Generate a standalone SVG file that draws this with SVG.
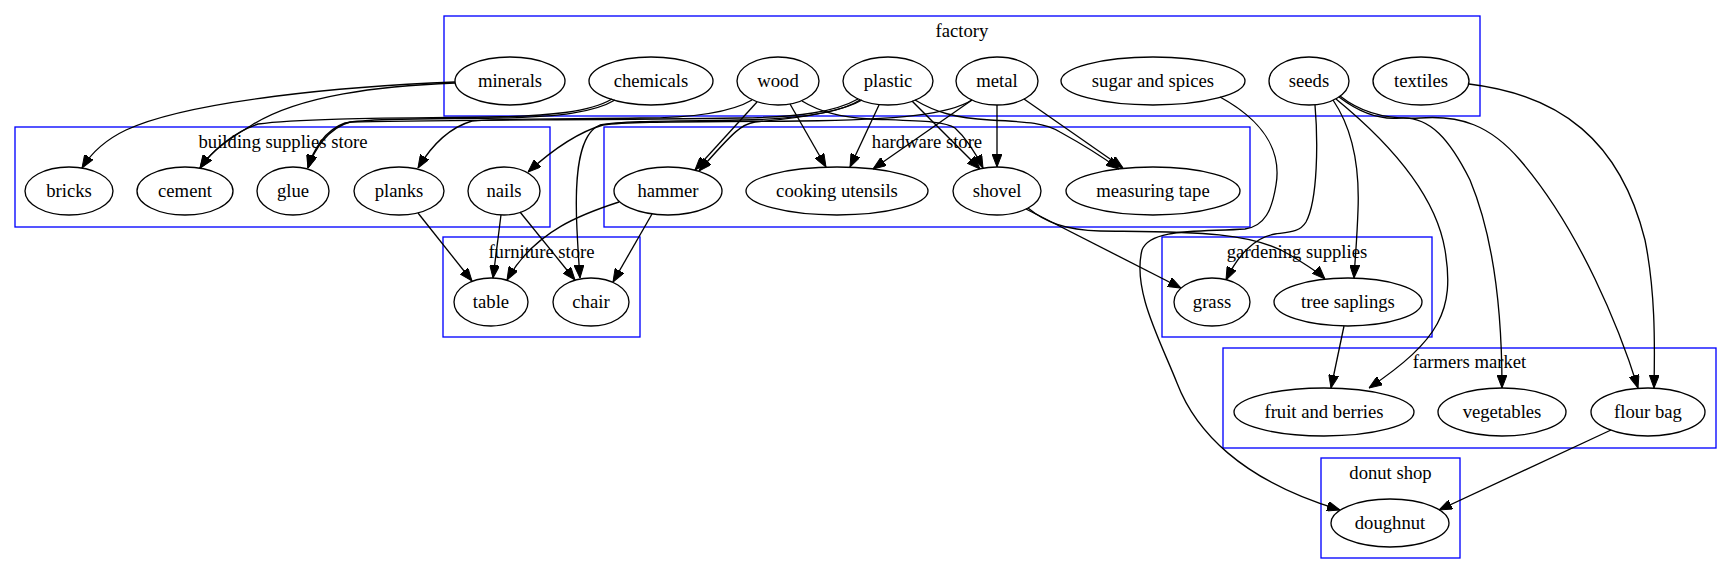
<svg xmlns="http://www.w3.org/2000/svg" width="1732" height="575" viewBox="0 0 1732 575">
<style>
.cl{fill:none;stroke:#0000ff;stroke-width:1.33}
.nd{fill:none;stroke:#000;stroke-width:1.33}
text{font-family:"Liberation Serif","Times New Roman",serif;font-size:18.67px;text-anchor:middle;fill:#000}
.ed path{fill:none;stroke:#000;stroke-width:1.33;marker-end:url(#ah)}
</style>
<defs>
<marker id="ah" viewBox="0 0 13 10" refX="13" refY="5" markerWidth="13" markerHeight="10" markerUnits="userSpaceOnUse" orient="auto">
<path d="M0,0 L13,5 L0,10 z" fill="#000" stroke="#000" stroke-width="1"/>
</marker>
</defs>
<rect width="1732" height="575" fill="#fff"/>
<g id="clusters">
<g id="cluster_factory"><rect class="cl" x="444" y="16" width="1036" height="100"/><text x="962" y="37">factory</text></g>
<g id="cluster_building"><rect class="cl" x="15" y="127" width="535" height="100"/><text x="283" y="148">building supplies store</text></g>
<g id="cluster_hardware"><rect class="cl" x="604" y="127" width="646" height="100"/><text x="927" y="148">hardware store</text></g>
<g id="cluster_furniture"><rect class="cl" x="443" y="237" width="197" height="100"/><text x="541.5" y="258">furniture store</text></g>
<g id="cluster_gardening"><rect class="cl" x="1162" y="237" width="270" height="100"/><text x="1297" y="258">gardening supplies</text></g>
<g id="cluster_farmers"><rect class="cl" x="1223" y="348" width="493" height="100"/><text x="1469.5" y="368">farmers market</text></g>
<g id="cluster_donut"><rect class="cl" x="1321" y="458" width="139" height="100"/><text x="1390.5" y="479">donut shop</text></g>
</g>
<g id="edges" class="ed">
<path d="M455,82 C350,86 190,100 126,130 C105,140 92,152 82,168"/>
<path d="M455,83 C380,86 300,95 252,125 C232,137 212,150 200,168"/>
<path d="M612,99 C590,112 550,116 490,117 C400,118 300,118 258,124 C234,132 213,150 200,168"/>
<path d="M615,100 C595,112 560,117 500,118 C440,119 370,118 345,123 C325,130 313,150 308,168"/>
<path d="M858,99 C835,112 800,117 740,118 C600,120 420,120 350,122 C328,128 314,150 308,168"/>
<path d="M752,100 C730,113 690,118 640,118 C580,119 500,118 472,121 C448,128 430,148 418,168"/>
<path d="M972,100 C950,114 900,120 800,121 C700,122 630,121 603,125 C575,133 550,152 528,172"/>
<path d="M860,100 C840,113 800,119 740,120 C660,121 620,121 600,125 C580,133 574,170 577,230 C578,250 579,265 580,278"/>
<path d="M757,102 L695,170"/>
<path d="M862,100 C840,113 790,119 755,122 C742,124 735,130 699,171"/>
<path d="M790,104 L826,167"/>
<path d="M879,105 L850,167"/>
<path d="M972,100 L873,169"/>
<path d="M802,101 C820,112 840,117 870,119 C920,121 945,121 955,128 C965,137 975,152 983,168"/>
<path d="M912,101 L980,169"/>
<path d="M997,105 L997,167"/>
<path d="M915,100 C935,112 955,118 990,120 C1030,122 1045,123 1060,132 C1080,143 1100,155 1119,169"/>
<path d="M1024,99 L1123,168"/>
<path d="M1220,97 C1262,120 1282,150 1276,185 C1272,210 1265,226 1245,229 C1200,232 1150,228 1142,250 C1132,290 1160,340 1177,383 C1195,430 1240,480 1340,510"/>
<path d="M1315,105 C1318,140 1318,200 1306,222 C1300,232 1290,232 1275,234 C1255,237 1238,255 1226,280"/>
<path d="M1333,100 C1350,125 1360,160 1358,210 C1357,240 1355,260 1354,278"/>
<path d="M1336,99 C1380,135 1435,190 1445,250 C1455,310 1440,340 1369,388"/>
<path d="M1339,97 C1360,113 1380,120 1400,118 C1430,116 1450,140 1470,180 C1495,240 1502,320 1502,388"/>
<path d="M1340,96 C1360,112 1385,120 1420,118 C1460,115 1490,125 1520,160 C1580,230 1620,330 1638,388"/>
<path d="M1469,84 C1560,95 1620,140 1645,240 C1655,290 1655,340 1654,388"/>
<path d="M418,213 L472,281"/>
<path d="M501,215 L493,278"/>
<path d="M520,212 L575,280"/>
<path d="M619,202 C585,213 535,230 507,280"/>
<path d="M652,214 L613,282"/>
<path d="M1026,209 L1181,288"/>
<path d="M1028,208 C1045,222 1065,230 1100,231 C1180,232 1250,230 1290,255 C1305,264 1318,272 1325,279"/>
<path d="M1344,326 L1331,388"/>
<path d="M1611,430 L1439,510"/>
</g>
<g id="minerals"><ellipse class="nd" cx="510" cy="81" rx="55" ry="24"/><text x="510" y="87">minerals</text></g>
<g id="chemicals"><ellipse class="nd" cx="651" cy="81" rx="62" ry="24"/><text x="651" y="87">chemicals</text></g>
<g id="wood"><ellipse class="nd" cx="778" cy="81" rx="41" ry="24"/><text x="778" y="87">wood</text></g>
<g id="plastic"><ellipse class="nd" cx="888" cy="81" rx="45" ry="24"/><text x="888" y="87">plastic</text></g>
<g id="metal"><ellipse class="nd" cx="997" cy="81" rx="41" ry="24"/><text x="997" y="87">metal</text></g>
<g id="sugar_and_spices"><ellipse class="nd" cx="1153" cy="81" rx="92" ry="24"/><text x="1153" y="87">sugar and spices</text></g>
<g id="seeds"><ellipse class="nd" cx="1309" cy="81" rx="40" ry="24"/><text x="1309" y="87">seeds</text></g>
<g id="textiles"><ellipse class="nd" cx="1421" cy="81" rx="48" ry="24"/><text x="1421" y="87">textiles</text></g>
<g id="bricks"><ellipse class="nd" cx="69" cy="191" rx="44" ry="24"/><text x="69" y="197">bricks</text></g>
<g id="cement"><ellipse class="nd" cx="185" cy="191" rx="48" ry="24"/><text x="185" y="197">cement</text></g>
<g id="glue"><ellipse class="nd" cx="293" cy="191" rx="36" ry="24"/><text x="293" y="197">glue</text></g>
<g id="planks"><ellipse class="nd" cx="399" cy="191" rx="45" ry="24"/><text x="399" y="197">planks</text></g>
<g id="nails"><ellipse class="nd" cx="504" cy="191" rx="36" ry="24"/><text x="504" y="197">nails</text></g>
<g id="hammer"><ellipse class="nd" cx="668" cy="191" rx="54" ry="24"/><text x="668" y="197">hammer</text></g>
<g id="cooking_utensils"><ellipse class="nd" cx="837" cy="191" rx="91" ry="24"/><text x="837" y="197">cooking utensils</text></g>
<g id="shovel"><ellipse class="nd" cx="997" cy="191" rx="44" ry="24"/><text x="997" y="197">shovel</text></g>
<g id="measuring_tape"><ellipse class="nd" cx="1153" cy="191" rx="87" ry="24"/><text x="1153" y="197">measuring tape</text></g>
<g id="table"><ellipse class="nd" cx="491" cy="302" rx="37" ry="24"/><text x="491" y="308">table</text></g>
<g id="chair"><ellipse class="nd" cx="591" cy="302" rx="38" ry="24"/><text x="591" y="308">chair</text></g>
<g id="grass"><ellipse class="nd" cx="1212" cy="302" rx="38" ry="24"/><text x="1212" y="308">grass</text></g>
<g id="tree_saplings"><ellipse class="nd" cx="1348" cy="302" rx="74" ry="24"/><text x="1348" y="308">tree saplings</text></g>
<g id="fruit_and_berries"><ellipse class="nd" cx="1324" cy="412" rx="90" ry="24"/><text x="1324" y="418">fruit and berries</text></g>
<g id="vegetables"><ellipse class="nd" cx="1502" cy="412" rx="64" ry="24"/><text x="1502" y="418">vegetables</text></g>
<g id="flour_bag"><ellipse class="nd" cx="1648" cy="412" rx="57" ry="24"/><text x="1648" y="418">flour bag</text></g>
<g id="doughnut"><ellipse class="nd" cx="1390" cy="523" rx="59" ry="24"/><text x="1390" y="529">doughnut</text></g>
</svg>
